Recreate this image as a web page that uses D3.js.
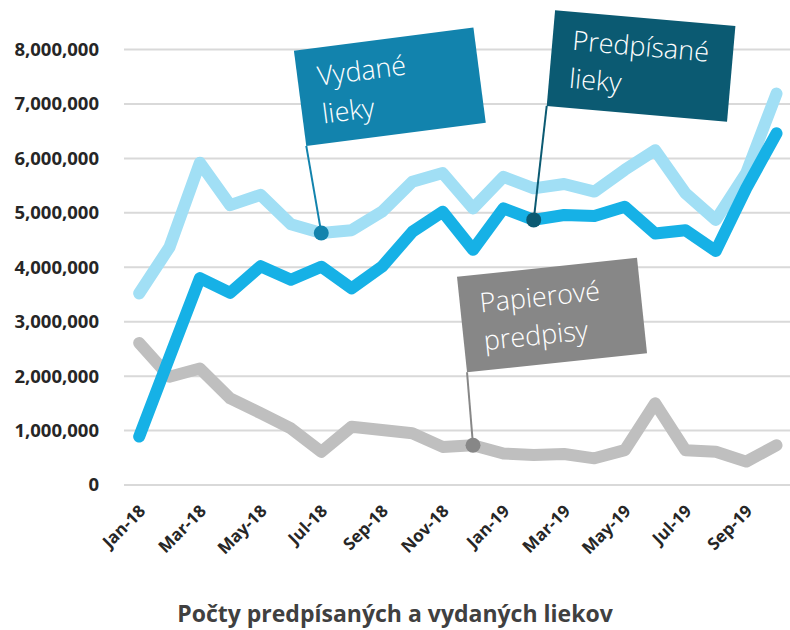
<!DOCTYPE html>
<html>
<head>
<meta charset="utf-8">
<script src="https://cdn.jsdelivr.net/npm/d3@7"></script>
<style>
  body { margin: 0; background: #fff; }
  text { font-family: "Open Sans", "Noto Sans", sans-serif; }
</style>
</head>
<body>
<div id="chart"></div>
<script>
// Data
var months = ["Jan-18","Feb-18","Mar-18","Apr-18","May-18","Jun-18","Jul-18","Aug-18","Sep-18","Oct-18","Nov-18","Dec-18",
              "Jan-19","Feb-19","Mar-19","Apr-19","May-19","Jun-19","Jul-19","Aug-19","Sep-19","Oct-19"];
var tickLabels = ["Jan-18","Mar-18","May-18","Jul-18","Sep-18","Nov-18","Jan-19","Mar-19","May-19","Jul-19","Sep-19"];
var yTicks = [0, 1000000, 2000000, 3000000, 4000000, 5000000, 6000000, 7000000, 8000000];

var vydane = [3520000, 4370000, 5920000, 5140000, 5330000, 4790000, 4630000, 4680000, 5020000, 5570000, 5730000, 5080000,
              5660000, 5450000, 5530000, 5390000, 5790000, 6150000, 5360000, 4870000, 5730000, 7190000];
var predpisane = [890000, 2350000, 3800000, 3530000, 4020000, 3770000, 4010000, 3610000, 4010000, 4650000, 5020000, 4320000,
                  5080000, 4870000, 4960000, 4940000, 5110000, 4620000, 4680000, 4300000, 5450000, 6460000];
var papierove = [2610000, 1990000, 2140000, 1590000, 1320000, 1040000, 610000, 1070000, 1010000, 950000, 700000, 730000,
                 580000, 550000, 570000, 490000, 640000, 1500000, 640000, 610000, 430000, 730000];

var title = "Počty predpísaných a vydaných liekov";

// Chart size
var svgWidth = 790;
var svgHeight = 630;
var plotLeft = 124;
var bandW = 30.35;
var svg = d3.select("#chart").append("svg").attr("width", svgWidth).attr("height", svgHeight);

var xScale = d3.scaleBand().domain(months).range([plotLeft, plotLeft + bandW * months.length]);
var xPos = d => xScale(d) + xScale.bandwidth() / 2;
var yScale = d3.scaleLinear().domain([0, 8000000]).range([485, 49.5]);

// gridlines
svg.append("g").selectAll("line").data(yTicks).enter().append("line")
  .attr("x1", plotLeft).attr("x2", svgWidth)
  .attr("y1", d => yScale(d)).attr("y2", d => yScale(d))
  .attr("stroke", "#d9d9d9").attr("stroke-width", 2);

// y axis labels
var leftAxis = d3.axisLeft(yScale).tickValues(yTicks).tickSize(0).tickPadding(0).tickFormat(d3.format(","));
var yAxis = svg.append("g").attr("transform", "translate(99,0)").call(leftAxis);
yAxis.select(".domain").remove();
yAxis.selectAll("text").attr("fill", "#262626").style("font-size", "18.5px").style("font-weight", "bold")
  .style("font-family", "'Open Sans', sans-serif");

// x axis labels
var bottomAxis = d3.axisBottom(xScale).tickValues(tickLabels).tickSize(0).tickPadding(0);
var xAxis = svg.append("g").call(bottomAxis);
xAxis.select(".domain").remove();
xAxis.selectAll(".tick").attr("transform", d => `translate(${xPos(d) + 3}, 508)`);
xAxis.selectAll("text")
  .attr("y", 0).attr("dy", "0.35em").attr("transform", "rotate(-45)")
  .style("text-anchor", "end").attr("fill", "#262626")
  .style("font-size", "17px").style("font-weight", "bold")
  .style("font-family", "'Open Sans', sans-serif");

// lines
var series = [
  {name: "papierove", values: papierove, color: "#bfbfbf"},
  {name: "vydane", values: vydane, color: "#a1dff5"},
  {name: "predpisane", values: predpisane, color: "#16b1e6"}
];
var line = d3.line().x((d, i) => xPos(months[i])).y(d => yScale(d));
svg.append("g").selectAll("path").data(series).enter().append("path")
  .attr("d", d => line(d.values))
  .attr("fill", "none").attr("stroke", d => d.color)
  .attr("stroke-width", 12).attr("stroke-linejoin", "round").attr("stroke-linecap", "round");

// flags
var flags = [
  {lines: ["Vydané", "lieky"], values: vydane, month: "Jul-18", color: "#1283ad", dx: -15, dy: -87, angle: -7.4},
  {lines: ["Predpísané", "lieky"], values: predpisane, month: "Feb-19", color: "#0b5a72", dx: 13, dy: -114, angle: 5},
  {lines: ["Papierové", "predpisy"], values: papierove, month: "Dec-18", color: "#878787", dx: -6, dy: -73, angle: -6}
];
var flagW = 181, flagH = 96;

flags.forEach(function(f) {
  var px = xPos(f.month);
  var py = yScale(f.values[months.indexOf(f.month)]);
  var g = svg.append("g");
  g.append("line")
    .attr("x1", px).attr("y1", py).attr("x2", px + f.dx).attr("y2", py + f.dy)
    .attr("stroke", f.color).attr("stroke-width", 2);
  g.append("circle").attr("cx", px).attr("cy", py).attr("r", 7.5).attr("fill", f.color);
  var fg = g.append("g").attr("transform", `translate(${px + f.dx}, ${py + f.dy}) rotate(${f.angle})`);
  fg.append("rect").attr("x", 0).attr("y", -flagH).attr("width", flagW).attr("height", flagH).attr("fill", f.color);
  fg.selectAll("text").data(f.lines).enter().append("text")
    .attr("x", 20).attr("y", (d, i) => -58 + i * 38)
    .attr("fill", "#fff").style("font-size", "27px").style("font-weight", 300)
    .text(d => d);
});

// title
svg.append("text").attr("x", 395).attr("y", 622).attr("text-anchor", "middle")
  .attr("fill", "#404040").style("font-size", "23px").style("font-weight", "bold")
  .text(title);
</script>
</body>
</html>
